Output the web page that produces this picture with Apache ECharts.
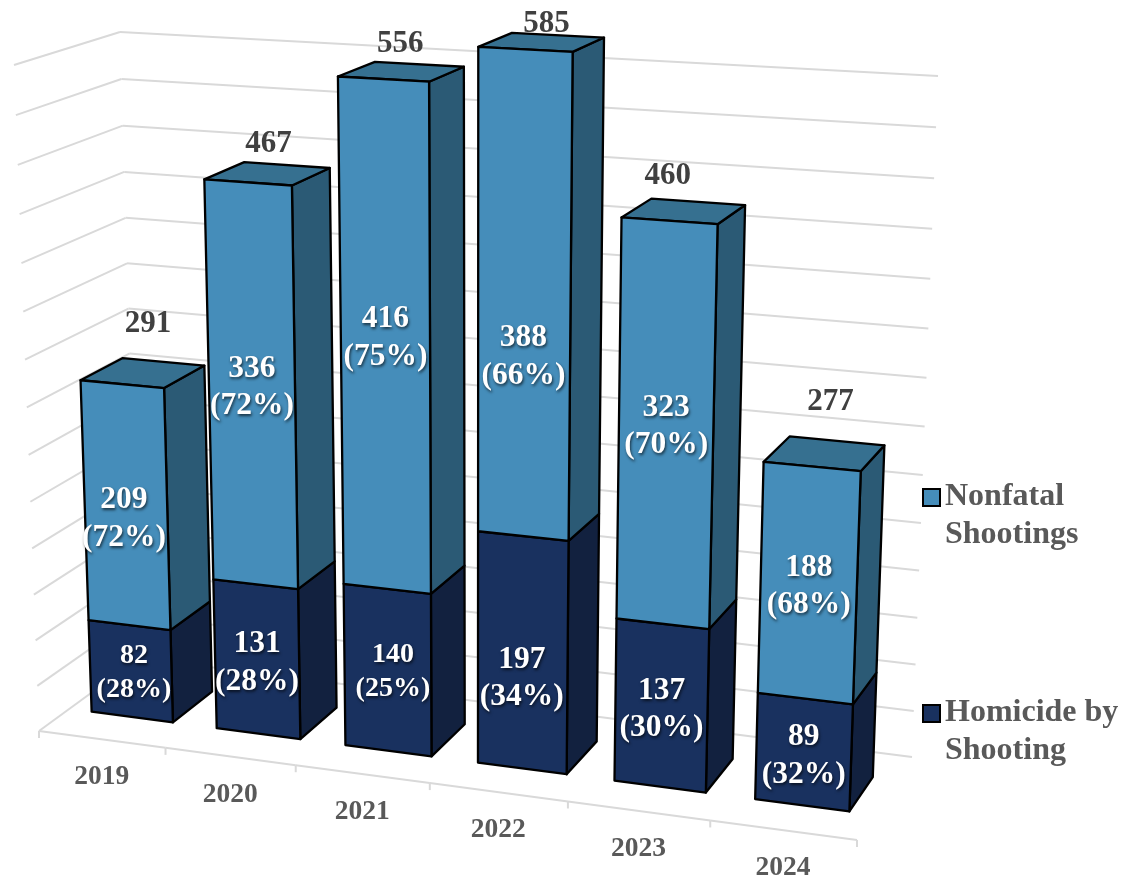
<!DOCTYPE html>
<html><head><meta charset="utf-8">
<style>html,body{margin:0;padding:0;background:#fff}#c{width:1123px;height:879px}</style>
<script src="https://cdn.jsdelivr.net/npm/echarts@6/dist/echarts.min.js"></script>
</head><body><div id="c"></div>
<script>
const years = ['2019','2020','2021','2022','2023','2024'];
const homicide = [82,131,140,197,137,89];
const nonfatal = [209,336,416,388,323,188];
const totals = [291,467,556,585,460,277];
const homicidePct = ['28%','28%','25%','34%','30%','32%'];
const nonfatalPct = ['72%','72%','75%','66%','70%','68%'];
const gridValues = [0,40,80,120,160,200,240,280,320,360,400,440,480,520,560];

// Camera: where the front and back planes of the 3D box land on the page
const FRONT = {tl:[14,65], tr:[882,115], br:[857,840], bl:[39,731]};
const BACK  = {tl:[120,32], tr:[938,76], br:[912,757], bl:[139,658]};
const BAR_U = [0.18, 0.833], BAR_T = [0.305, 0.72];
const FONT = '"Liberation Serif","Times New Roman",serif';
// hand-placed labels in the original (px)
const LABEL_DROP = 4;
const nudgeNonfatal = {0:[-2,10], 3:[-1,60]};
const nudgeHomicide = {0:[3,-2], 2:[5,-2], 3:[-1,22]};
const nudgeTotal = {0:[6,0], 1:[2,5], 3:[6,7], 4:[-15,0], 5:[7,-2]};
const compactHomicide = [0,2];

function quadMatrix(q){
  const [x0,y0]=q.bl,[x1,y1]=q.br,[x2,y2]=q.tr,[x3,y3]=q.tl;
  const dx1=x1-x2,dx2=x3-x2,sx=x0-x1+x2-x3,dy1=y1-y2,dy2=y3-y2,sy=y0-y1+y2-y3;
  const den=dx1*dy2-dx2*dy1;
  const g=(sx*dy2-dx2*sy)/den,h=(dx1*sy-sx*dy1)/den;
  return [x1-x0+g*x1,x3-x0+h*x3,x0,y1-y0+g*y1,y3-y0+h*y3,y0,g,h];
}
const MF=quadMatrix(FRONT), MB=quadMatrix(BACK);
function applyQ(m,u,v){const w=m[6]*u+m[7]*v+1;return [(m[0]*u+m[1]*v+m[2])/w,(m[3]*u+m[4]*v+m[5])/w];}
function projector(params){
  const c=params.coordSys;
  return function(px,py,t){
    const u=(px-c.x)/c.width, v=(c.y+c.height-py)/c.height;
    const f=applyQ(MF,u,v), b=applyQ(MB,u,v);
    return [f[0]+(b[0]-f[0])*t, f[1]+(b[1]-f[1])*t];
  };
}
function segs(a,b){return {type:'line',shape:{x1:a[0],y1:a[1],x2:b[0],y2:b[1]},style:{stroke:'#D9D9D9',lineWidth:2,fill:null}};}

function renderGrid(params,api){
  const P=projector(params),c=params.coordSys;
  const y=api.coord([0,api.value(0)])[1];
  const L=c.x,R=c.x+c.width;
  return {type:'group',children:[segs(P(L,y,0),P(L,y,1)),segs(P(L,y,1),P(R,y,1))]};
}
function renderAxis(params,api){
  const P=projector(params);
  const i=api.value(0),cp=api.coord([i,0]),bw=api.size([1,0])[0];
  const kids=[];
  const a=P(cp[0]-bw/2,cp[1],0),b=P(cp[0]+bw/2,cp[1],0),m=P(cp[0],cp[1],0);
  kids.push(segs(a,b));
  kids.push(segs(b,[b[0],b[1]+7]));
  if(i===0)kids.push(segs(a,[a[0],a[1]+7]));
  kids.push({type:'text',style:{text:years[i],x:m[0],y:m[1]+38,align:'center',verticalAlign:'middle',font:'bold 27.5px '+FONT,fill:'#595959'}});
  return {type:'group',children:kids};
}
function barRenderer(front,side,top,pct,nudge,showTop){
  return function(params,api){
    const P=projector(params);
    const i=api.value(0),base=api.value(1),val=api.value(2);
    const c0=api.coord([i,base]),c1=api.coord([i,base+val]),bw=api.size([1,0])[0];
    const xL=c0[0]+(BAR_U[0]-.5)*bw,xR=c0[0]+(BAR_U[1]-.5)*bw;
    const [t0,t1]=BAR_T;
    const A=P(xL,c0[1],t0),B=P(xR,c0[1],t0),C=P(xR,c1[1],t0),D=P(xL,c1[1],t0);
    const E=P(xR,c0[1],t1),F=P(xR,c1[1],t1),G=P(xL,c1[1],t1);
    const poly=(pts,fill)=>({type:'polygon',shape:{points:pts},style:{fill:fill,stroke:'#000',lineWidth:2.3,lineJoin:'round'}});
    const kids=[poly([B,E,F,C],side)];
    if(showTop)kids.push(poly([D,C,F,G],top));
    kids.push(poly([A,B,C,D],front));
    const n=nudge[i]||[0,0];
    const compact=!showTop&&compactHomicide.includes(i);
    const size=compact?28:31.5;
    const cx=(A[0]+B[0]+C[0]+D[0])/4+n[0],cy=(A[1]+B[1]+C[1]+D[1])/4+n[1]+LABEL_DROP;
    kids.push({type:'text',z2:10,style:{text:val+'\n('+pct[i]+')',x:cx,y:cy,align:'center',verticalAlign:'middle',
      font:'bold '+size+'px '+FONT,lineHeight:compact?34:37.5,fill:'#fff',
      textShadowColor:'rgba(0,0,0,0.65)',textShadowBlur:3,textShadowOffsetX:1,textShadowOffsetY:2}});
    return {type:'group',children:kids};
  };
}
function renderTotal(params,api){
  const P=projector(params);
  const i=api.value(0),v=api.value(1),c=api.coord([i,v]);
  const p=P(c[0],c[1],(BAR_T[0]+BAR_T[1])/2),n=nudgeTotal[i]||[0,0];
  return {type:'text',style:{text:String(v),x:p[0]+n[0],y:p[1]-(72.5-0.081*v)+n[1],align:'center',verticalAlign:'middle',font:'bold 31px '+FONT,fill:'#404040'}};
}
const homicideData=years.map((y,i)=>[i,0,homicide[i]]);
const nonfatalData=years.map((y,i)=>[i,homicide[i],nonfatal[i]]);
const LEGEND_ICON='path://M0 0H17V17H0Z M0 54L0 54';

const chart=echarts.init(document.getElementById('c'),null,{renderer:'canvas'});
chart.setOption({
  animation:false,
  backgroundColor:'#fff',
  grid:{left:0,right:0,top:0,bottom:0},
  xAxis:{type:'category',data:years,show:false},
  yAxis:{type:'value',min:0,max:560,interval:40,show:false},
  legend:{
    show:true,orient:'vertical',left:922,top:478,padding:0,itemGap:140,itemWidth:17,itemHeight:54,
    data:[
      {name:'Nonfatal\nShootings',icon:LEGEND_ICON},
      {name:'Homicide by\nShooting',icon:LEGEND_ICON}],
    itemStyle:{borderColor:'#000',borderWidth:2},
    textStyle:{fontFamily:FONT,fontWeight:'bold',fontSize:32,color:'#595959',lineHeight:38},
    selectedMode:false
  },
  series:[
    {type:'custom',name:'grid',silent:true,renderItem:renderGrid,data:gridValues.map(v=>[v]),encode:{y:0},clip:false},
    {type:'custom',name:'axis',silent:true,renderItem:renderAxis,data:years.map((y,i)=>[i]),encode:{x:0},clip:false},
    {type:'custom',name:'Homicide by\nShooting',silent:true,renderItem:barRenderer('#19315F','#12213F','#19315F',homicidePct,nudgeHomicide,false),
      data:homicideData,encode:{x:0,y:[1,2]},itemStyle:{color:'#19315F'},clip:false},
    {type:'custom',name:'Nonfatal\nShootings',silent:true,renderItem:barRenderer('#458DBA','#2B5A75','#367090',nonfatalPct,nudgeNonfatal,true),
      data:nonfatalData,encode:{x:0,y:[1,2]},itemStyle:{color:'#458DBA'},clip:false},
    {type:'custom',name:'total',silent:true,renderItem:renderTotal,data:years.map((y,i)=>[i,totals[i]]),encode:{x:0,y:1},clip:false}
  ]
});
</script></body></html>
